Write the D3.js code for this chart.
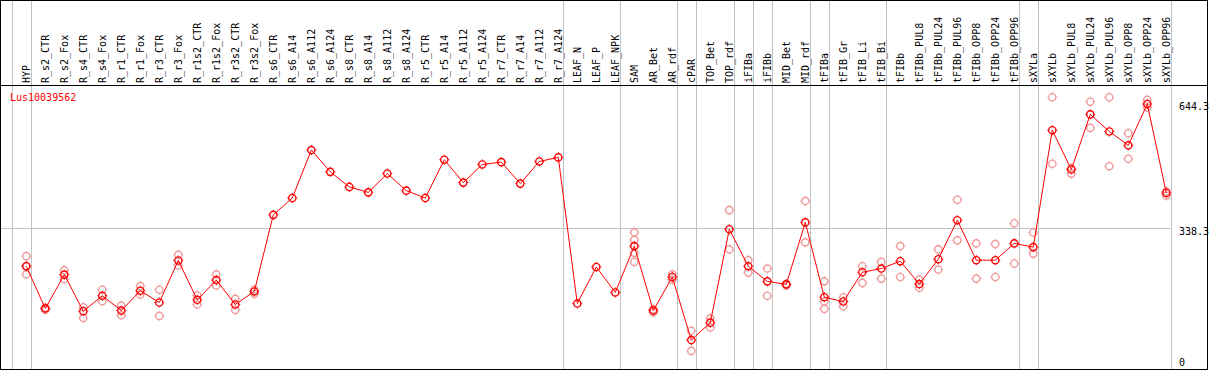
<!DOCTYPE html>
<html>
<head>
<meta charset="utf-8">
<script src="https://cdn.jsdelivr.net/npm/d3@7"></script>
<style>
  body { margin: 0; background: #fff; }
  svg { display: block; }
  text { font-family: "DejaVu Sans Mono", monospace; font-size: 10px; }
</style>
</head>
<body>
<svg id="chart" width="1209" height="370"></svg>
<script>
const geneName = "Lus10039562";

const samples = ["HYP", "R_s2_CTR", "R_s2_Fox", "R_s4_CTR", "R_s4_Fox", "R_r1_CTR", "R_r1_Fox", "R_r3_CTR", "R_r3_Fox",
    "R_r1s2_CTR", "R_r1s2_Fox", "R_r3s2_CTR", "R_r3s2_Fox", "R_s6_CTR", "R_s6_A14", "R_s6_A112", "R_s6_A124",
    "R_s8_CTR", "R_s8_A14", "R_s8_A112", "R_s8_A124", "R_r5_CTR", "R_r5_A14", "R_r5_A112", "R_r5_A124",
    "R_r7_CTR", "R_r7_A14", "R_r7_A112", "R_r7_A124", "LEAF_N", "LEAF_P", "LEAF_NPK", "SAM", "AR_Bet", "AR_rdf",
    "cPAR", "TOP_Bet", "TOP_rdf", "iFIBa", "iFIBb", "MID_Bet", "MID_rdf", "tFIBa", "tFIB_Gr", "tFIB_Li", "tFIB_Bi",
    "tFIBb", "tFIBb_PUL8", "tFIBb_PUL24", "tFIBb_PUL96", "tFIBb_OPP8", "tFIBb_OPP24", "tFIBb_OPP96", "sXYLa",
    "sXYLb", "sXYLb_PUL8", "sXYLb_PUL24", "sXYLb_PUL96", "sXYLb_OPP8", "sXYLb_OPP24", "sXYLb_OPP96"];

const meanValues = [246, 142.6, 225.5, 136, 173.9, 137.7, 186.2, 157.4, 259.9,
    164, 212.2, 152.5, 184.4, 371.3, 412.4, 529.5, 476.3,
    439.5, 426.2, 472.2, 430.4, 412.4, 505.9, 450, 494.3,
    500, 447.6, 501.7, 511.5, 154.9, 244.2, 182, 295.1, 137.7, 219.6,
    65.7, 108.2, 336.2, 245.9, 209, 201.7, 352.9, 170.4, 159.8, 231.2, 240.3,
    258.2, 202.4, 263.1, 358.3, 260.7, 260.7, 301.7, 292.6,
    577.9, 482, 616.5, 574.7, 541, 642, 424.7];

const replicateValues = [[270.5, 246, 226.2], [140, 145], [236, 214], [145.8, 119.8], [188.6, 160.6], [150, 126.2], [197.5, 177], [188.6, 124.7], [273.7, 247.6],
    [174.6, 152.5], [226.2, 199.2], [166.5, 139.4], [188.6, 178.8], [], [], [], [],
    [], [], [], [], [], [], [], [],
    [], [], [], [], [], [], [], [328.8, 309.9, 278.6, 256.5], [133.5, 141], [226.2, 213.2],
    [88.5, 39.3], [118.8, 96.6], [382.9, 287], [260.7, 230.4], [240.3, 173.9], [199.2, 203], [405, 304.2], [209, 159.8, 141.9], [170.4, 148.3], [245.9, 205.3], [256.5, 215.7],
    [295.1, 219.6], [213.2, 193.5], [287, 237.8], [408.2, 309.1], [301.7, 215.7], [300, 219.6], [350.9, 252.6], [328.3, 276.7],
    [658.3, 496], [485, 472], [647.5, 583.6], [658.3, 490.1], [570.5, 508.3], [652.4, 633.7], [428.6, 418.1]];

// sample index after which a separator is drawn
const groupBreaks = [-1, 0, 28, 31, 34, 35, 37, 38, 39, 41, 42, 45, 52, 53, 60];

const yTicks = [0, 338.3, 644.3];

const svg = d3.select("#chart");
const headerH = 85, plotBottom = 369, plotRight = 1170, frameRight = 1207;

const x = d3.scalePoint().domain(samples).range([26.3, 1166.3]);
const step = x.step();
const y = d3.scaleLinear().domain([0, 644.3]).range([367, 103]);

// separators
svg.selectAll(".sep")
    .data(groupBreaks)
    .join("line")
    .attr("class", "sep")
    .attr("x1", d => Math.round(x(samples[0]) + d * step + 4.2) + 0.5)
    .attr("x2", d => Math.round(x(samples[0]) + d * step + 4.2) + 0.5)
    .attr("y1", 0)
    .attr("y2", plotBottom)
    .attr("stroke", "#c0c0c0")
    .attr("stroke-width", 1);

// gridline at middle tick
svg.append("line")
    .attr("x1", 1)
    .attr("x2", plotRight)
    .attr("y1", Math.round(y(yTicks[1])) + 0.5)
    .attr("y2", Math.round(y(yTicks[1])) + 0.5)
    .attr("stroke", "#c0c0c0");

// frame
svg.append("rect")
    .attr("x", 0.5).attr("y", 0.5)
    .attr("width", frameRight)
    .attr("height", plotBottom)
    .attr("fill", "none")
    .attr("stroke", "#000");
svg.append("line")
    .attr("x1", 0).attr("x2", frameRight + 1)
    .attr("y1", headerH + 0.5).attr("y2", headerH + 0.5)
    .attr("stroke", "#000");

// sample labels
svg.selectAll(".sample-label")
    .data(samples)
    .join("text")
    .attr("class", "sample-label")
    .attr("transform", d => `translate(${x(d) + 3.5}, 83) rotate(-90)`)
    .attr("fill", "#000")
    .text(d => d);

// y labels
svg.selectAll(".y-label")
    .data(yTicks)
    .join("text")
    .attr("class", "y-label")
    .attr("x", 1179)
    .attr("y", d => Math.min(y(d) + 7, 366))
    .attr("fill", "#000")
    .text(d => d);

svg.append("text")
    .attr("x", 10)
    .attr("y", 101)
    .attr("fill", "#ff0000")
    .text(geneName);

const marker = (g, color) => {
    g.append("circle").attr("r", 3.6).attr("fill", "none").attr("stroke", color).attr("stroke-width", 1.4);
    [[0, -1], [0, 1], [-1, 0], [1, 0]].forEach(([dx, dy]) => {
        g.append("line")
            .attr("x1", dx * 4).attr("y1", dy * 4)
            .attr("x2", dx * 5).attr("y2", dy * 5)
            .attr("stroke", color).attr("stroke-width", 1);
    });
};

// replicates
const reps = [];
replicateValues.forEach((list, i) => list.forEach(v => reps.push({ sample: samples[i], value: v })));
svg.selectAll(".rep")
    .data(reps)
    .join("g")
    .attr("class", "rep")
    .attr("transform", d => `translate(${x(d.sample)}, ${y(d.value)})`)
    .each(function() { marker(d3.select(this), "#f09a9a"); });

// mean line
const means = samples.map((s, i) => ({ sample: s, value: meanValues[i] }));
svg.append("path")
    .datum(means)
    .attr("fill", "none")
    .attr("stroke", "#ff0000")
    .attr("stroke-width", 1)
    .attr("d", d3.line().x(d => x(d.sample)).y(d => y(d.value)));

svg.selectAll(".mean")
    .data(means)
    .join("g")
    .attr("class", "mean")
    .attr("transform", d => `translate(${x(d.sample)}, ${y(d.value)})`)
    .each(function() { marker(d3.select(this), "#ff0000"); });
</script>
</body>
</html>
